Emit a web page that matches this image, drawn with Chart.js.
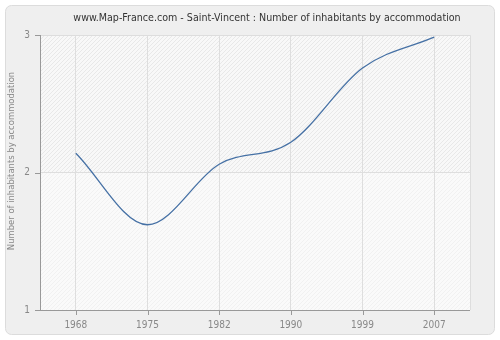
<!DOCTYPE html>
<html><head><meta charset="utf-8">
<script src="https://cdn.jsdelivr.net/npm/chart.js@4"></script>
<style>html,body{margin:0;padding:0;background:#fff}#w{width:500px;height:340px}</style>
</head><body><div id="w"><canvas id="c" width="500" height="340"></canvas></div>
<script>
const title = "www.Map-France.com - Saint-Vincent : Number of inhabitants by accommodation";
const yTitle = "Number of inhabitants by accommodation";
const years = ["1968", "1975", "1982", "1990", "1999", "2007"];
const values = [2.14, 1.62, 2.06, 2.22, 2.76, 2.985];
const yTicks = [1, 2, 3];

const FONT = "'DejaVu Sans Condensed', 'DejaVu Sans', sans-serif";

function hatch(bg, line) {
  const p = document.createElement('canvas'); p.width = 4; p.height = 4;
  const g = p.getContext('2d');
  g.fillStyle = bg; g.fillRect(0, 0, 4, 4);
  g.fillStyle = line;
  for (let i = 0; i < 4; i++) g.fillRect(i, 3 - i, 1, 1);
  return g.createPattern(p, 'repeat');
}

const deco = {
  id: 'deco',
  beforeDraw(chart) {
    const ctx = chart.ctx, a = chart.chartArea, y = chart.scales.y;
    ctx.save();
    ctx.fillStyle = '#fff'; ctx.fillRect(0, 0, 500, 340);
    ctx.beginPath();
    ctx.roundRect(5.5, 5.5, 489, 329, 6);
    ctx.fillStyle = '#efefef'; ctx.fill();
    ctx.strokeStyle = '#dcdcdc'; ctx.lineWidth = 1; ctx.stroke();
    const mid = y.getPixelForValue(2);
    ctx.fillStyle = hatch('#f8f8f8', '#e8e8e8');
    ctx.fillRect(a.left, a.top, a.right - a.left, mid - a.top);
    ctx.fillStyle = hatch('#fafafa', '#f1f1f1');
    ctx.fillRect(a.left, mid, a.right - a.left, a.bottom - mid);
    ctx.strokeStyle = '#dddddd';
    ctx.beginPath();
    ctx.moveTo(a.left, a.top + 0.5); ctx.lineTo(a.right + 0.5, a.top + 0.5); ctx.lineTo(a.right + 0.5, a.bottom);
    ctx.stroke();
    ctx.fillStyle = '#333';
    ctx.font = '10.6px ' + FONT;
    ctx.textAlign = 'center'; ctx.textBaseline = 'middle';
    ctx.fillText(title, 267, 18);
    ctx.save();
    ctx.translate(12, 161);
    ctx.rotate(-Math.PI / 2);
    ctx.fillStyle = '#888';
    ctx.font = '9.4px ' + FONT;
    ctx.fillText(yTitle, 0, 0);
    ctx.restore();
    ctx.restore();
  },
  afterDraw(chart) {
    const ctx = chart.ctx, a = chart.chartArea, x = chart.scales.x, y = chart.scales.y;
    ctx.save();
    ctx.strokeStyle = '#999'; ctx.lineWidth = 1;
    ctx.beginPath();
    ctx.moveTo(Math.round(a.left) + 0.5, a.top);
    ctx.lineTo(Math.round(a.left) + 0.5, Math.round(a.bottom) + 0.5);
    ctx.moveTo(a.left - 5, Math.round(a.bottom) + 0.5);
    ctx.lineTo(a.right, Math.round(a.bottom) + 0.5);
    yTicks.forEach(v => {
      const py = Math.round(y.getPixelForValue(v)) + 0.5;
      ctx.moveTo(a.left - 5, py); ctx.lineTo(a.left, py);
    });
    years.forEach((_, i) => {
      const px = Math.round(x.getPixelForValue(i)) + 0.5;
      ctx.moveTo(px, a.bottom); ctx.lineTo(px, a.bottom + 5);
    });
    ctx.stroke();
    ctx.restore();
  }
};

new Chart(document.getElementById('c'), {
  type: 'line',
  data: {
    labels: years,
    datasets: [{
      data: values,
      borderColor: '#4671a5',
      borderWidth: 1.3,
      pointRadius: 0,
      cubicInterpolationMode: 'monotone',
      fill: false
    }]
  },
  options: {
    responsive: false,
    animation: false,
    devicePixelRatio: 1,
    layout: { padding: { top: 35, right: 30, left: 0, bottom: 0 } },
    plugins: { legend: { display: false }, tooltip: { enabled: false } },
    scales: {
      x: {
        type: 'category',
        offset: true,
        border: { display: false },
        grid: { offset: false, color: '#dedede', borderDash: [4, 3], drawTicks: false },
        ticks: { color: '#888', font: { family: FONT, size: 10 }, padding: 9, maxRotation: 0 },
        afterFit(s) { s.height = 30; }
      },
      y: {
        min: 1, max: 3,
        border: { display: false },
        grid: {
          color: ctx => ctx.tick && ctx.tick.value === 2 ? '#dedede' : 'rgba(0,0,0,0)',
          borderDash: [4, 3], drawTicks: false
        },
        ticks: { stepSize: 1, color: '#888', font: { family: FONT, size: 10 }, padding: 10 },
        afterFit(s) { s.width = 40; }
      }
    }
  },
  plugins: [deco]
});
</script>
</body></html>
